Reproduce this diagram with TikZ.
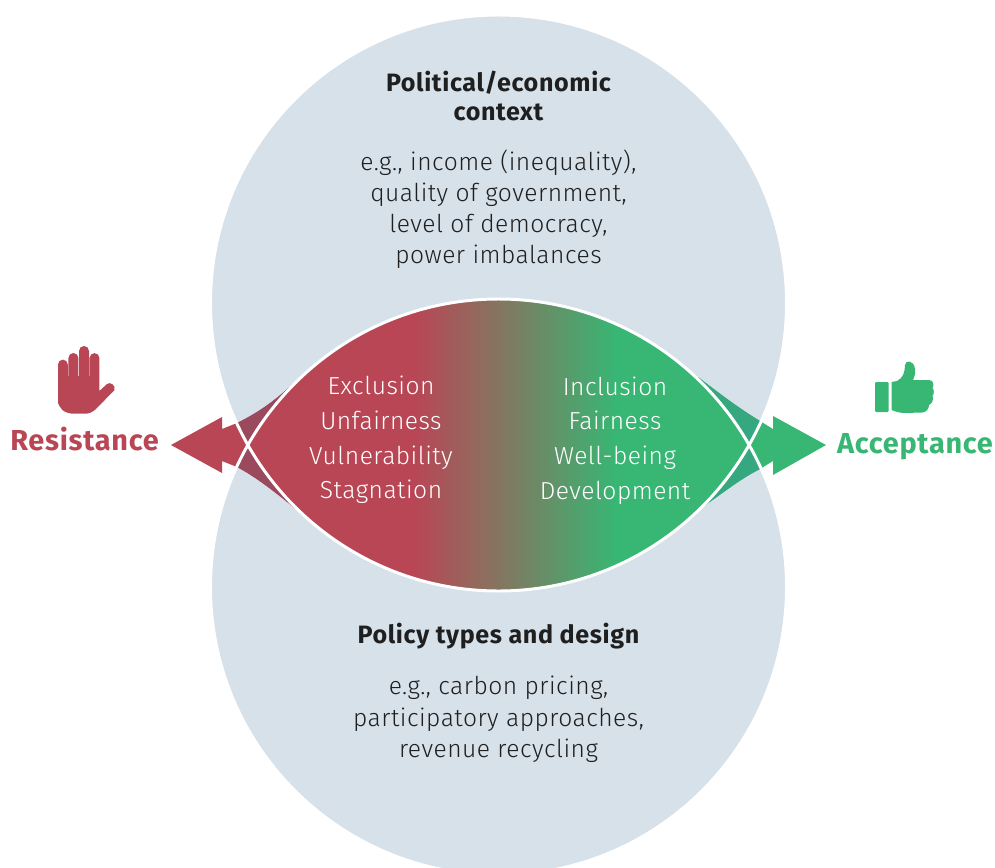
\documentclass[tikz,border=0pt]{standalone}
\usepackage{fontspec}
\setmainfont[LetterSpace=2.5]{Fira Sans}
\newfontfamily\lightface[LetterSpace=2]{Fira Sans Light}
\usetikzlibrary{calc}
\definecolor{rd}{HTML}{B94655}
\definecolor{gr}{HTML}{38B673}
\definecolor{bl}{HTML}{D6E1EA}
\definecolor{rddark}{HTML}{9B4A5E}
\definecolor{grdark}{HTML}{36A880}
\definecolor{ink}{HTML}{1F1F1F}
\definecolor{midtone}{HTML}{857560}
\pgfdeclarehorizontalshading{lensfade}{100bp}{
 color(0bp)=(rd); color(41.6bp)=(rd); color(50bp)=(midtone); color(61.7bp)=(gr); color(100bp)=(gr)}
\tikzset{
 heading/.style={font=\fontsize{25.2}{28}\selectfont\bfseries,text=ink,anchor=base,inner sep=0pt},
 bodytext/.style={font=\fontsize{24.7}{28}\lightface,text=ink,anchor=base,inner sep=0pt},
 lenstext/.style={font=\fontsize{24.7}{28}\lightface,text=white,anchor=base,inner sep=0pt},
 sidelabel/.style={font=\fontsize{29}{30}\selectfont\bfseries,anchor=base,inner sep=0pt},
 ringline/.style={draw=white,line width=3pt}
}
\begin{document}
\begin{tikzpicture}[x=1bp,y=-1bp]
\useasboundingbox (0,0) rectangle (995,868);
\clip (0,0) rectangle (995,868);
\def\ringA{(498.5,303) circle [radius=288bp]}
\def\ringB{(498.5,587) circle [radius=288bp]}
\def\leftarrowpath{(171,445) -- (222,417) -- (222,429) -- (237,423) .. controls (260,412) and (280,397) .. (300,377) -- (340,377) -- (340,522) -- (312,522) .. controls (288,503) and (262,480) .. (237,467) -- (222,461) -- (222,473) -- cycle}
\def\rightarrowpath{(826,445) -- (773,416) -- (773,429) -- (760,421) .. controls (740,409) and (720,394) .. (698,377) -- (660,377) -- (660,512) -- (698,510) .. controls (718,497) and (738,480) .. (760,469) -- (773,461) -- (773,475) -- cycle}
% circles
\fill[bl] \ringA;
\fill[bl] \ringB;
% arrows
\fill[rd] \leftarrowpath;
\fill[gr] \rightarrowpath;
\begin{scope}
 \clip \ringA;
 \fill[rddark] \leftarrowpath;
 \fill[grdark] \rightarrowpath;
\end{scope}
\begin{scope}
 \clip \ringB;
 \fill[rddark] \leftarrowpath;
 \fill[grdark] \rightarrowpath;
\end{scope}
% lens
\begin{scope}
 \clip \ringA;
 \clip \ringB;
 \shade[shading=lensfade] (248,295) rectangle (749,595);
\end{scope}
\draw[ringline] \ringA;
\draw[ringline] \ringB;
% hand icon
\fill[rd]
 (58,404) -- (58,364.5) arc[start angle=180,end angle=360,x radius=4.9bp,y radius=-4.9bp]
 -- (67.8,376) -- (68.4,376) -- (68.4,358) arc[start angle=180,end angle=360,x radius=5bp,y radius=-5bp]
 -- (78.4,376) -- (79.0,376) -- (79.0,351) arc[start angle=180,end angle=360,x radius=5bp,y radius=-5bp]
 -- (89.0,376) -- (89.6,376) -- (89.6,358) arc[start angle=180,end angle=360,x radius=4.9bp,y radius=-4.9bp]
 -- (99.4,391) -- (107,384) .. controls (110,381.5) and (116,385) .. (114.5,390)
 -- (96,409) .. controls (92,412.5) and (89,413.7) .. (85,413.7)
 -- (74,413.7) .. controls (64,413.7) and (58,408) .. (58,400) -- cycle;
% thumb icon
\fill[gr,rounded corners=1pt] (875,382) rectangle (888.5,412);
\fill[gr] (891.5,382) -- (897,381) .. controls (903,378) and (905,372) .. (905,365)
 .. controls (905,360) and (914,359.5) .. (915,369) .. controls (915.5,373) and (914.5,377) .. (913,380)
 -- (929,380) .. controls (934,380) and (934,386) .. (932.5,388) .. controls (934.5,390) and (934,394) .. (932.5,396)
 .. controls (934,399) and (932,404) .. (929,405) .. controls (929,409) and (926,412.5) .. (922,412.5)
 -- (905,413) .. controls (900,413) and (895,411.5) .. (891.5,410) -- cycle;
% labels
\node[sidelabel,text=rd] (resist) at (84.5,450) {Resistance};
\node[sidelabel,text=gr] (accept) at (915,453) {Acceptance};
\node[heading] (t1) at (498.5,91) {Political/economic};
\node[heading] (t2) at (498.5,120) {context};
\node[bodytext] (b1) at (498.5,170) {e.g., income (inequality),};
\node[bodytext] (b2) at (498.5,201) {quality of government,};
\node[bodytext] (b3) at (498.5,232) {level of democracy,};
\node[bodytext] (b4) at (498.5,263) {power imbalances};
\node[heading] (p1) at (498.5,643) {Policy types and design};
\node[bodytext] (q1) at (498.5,694) {e.g., carbon pricing,};
\node[bodytext] (q2) at (498.5,726) {participatory approaches,};
\node[bodytext] (q3) at (498.5,757) {revenue recycling};
\node[lenstext] (l1) at (381,394) {Exclusion};
\node[lenstext] (l2) at (381,429) {Unfairness};
\node[lenstext] (l3) at (381,464) {Vulnerability};
\node[lenstext] (l4) at (381,498) {Stagnation};
\node[lenstext] (r1) at (615,395) {Inclusion};
\node[lenstext] (r2) at (615,429) {Fairness};
\node[lenstext] (r3) at (615,464) {Well-being};
\node[lenstext] (r4) at (615,499) {Development};
\end{tikzpicture}
\end{document}
